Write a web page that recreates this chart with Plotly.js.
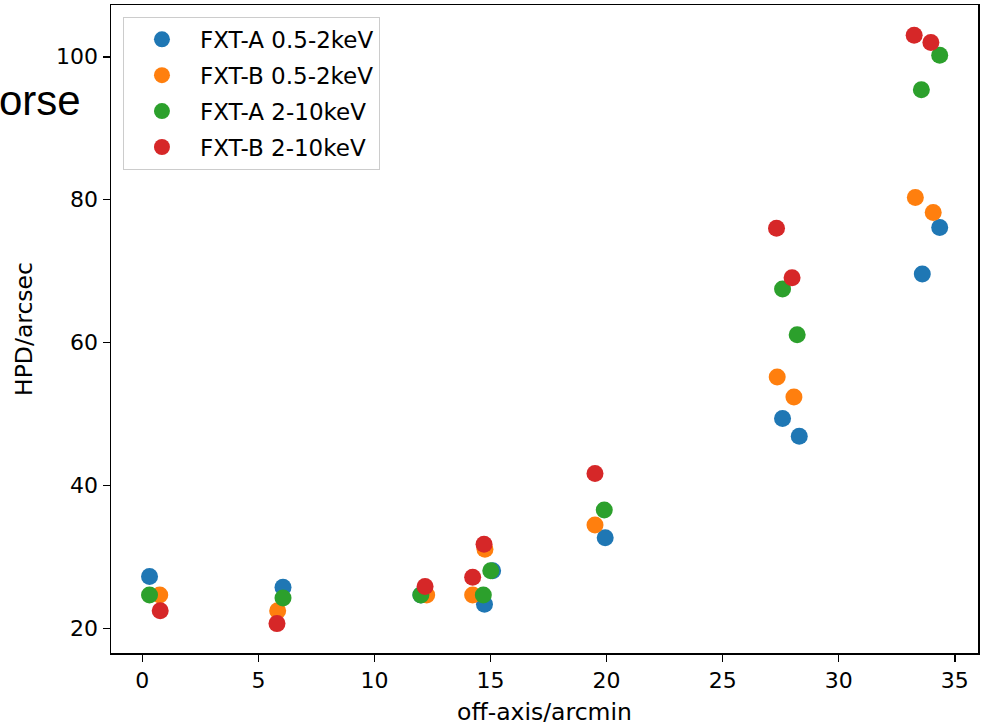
<!DOCTYPE html>
<html>
<head>
<meta charset="utf-8">
<script src="https://cdn.plot.ly/plotly-3.0.1.min.js"></script>
<style>html,body{margin:0;padding:0;background:#fff;}#chart{width:984px;height:726px;}</style>
</head>
<body>
<div id="chart"></div>
<script>
// Series names
const seriesNames = ["FXT-A 0.5-2keV", "FXT-B 0.5-2keV", "FXT-A 2-10keV", "FXT-B 2-10keV"];
const seriesColors = ["#1f77b4", "#ff7f0e", "#2ca02c", "#d62728"];

// off-axis angle (arcmin)
const xFxtA_soft = [0.31, 6.06, 12.0, 14.74, 15.09, 19.94, 27.58, 28.30, 33.60, 34.35];
const xFxtB_soft = [0.75, 5.83, 12.25, 14.23, 14.76, 19.50, 27.35, 28.07, 33.30, 34.07];
const xFxtA_hard = [0.31, 6.06, 12.0, 14.69, 15.01, 19.90, 27.58, 28.21, 33.56, 34.35];
const xFxtB_hard = [0.77, 5.80, 12.18, 14.23, 14.72, 19.50, 27.32, 27.99, 33.25, 33.97];

// HPD (arcsec)
const hpdFxtA_soft = [27.3, 25.8, 24.7, 23.4, 28.1, 32.7, 49.4, 46.9, 69.6, 76.1];
const hpdFxtB_soft = [24.7, 22.5, 24.7, 24.7, 31.1, 34.5, 55.2, 52.4, 80.3, 78.2];
const hpdFxtA_hard = [24.7, 24.3, 24.7, 24.7, 28.1, 36.6, 67.5, 61.1, 95.4, 100.2];
const hpdFxtB_hard = [22.5, 20.7, 25.9, 27.2, 31.8, 41.7, 76.0, 69.1, 103.0, 102.0];

const yTicks = [20, 40, 60, 80, 100];
const xTicks = [0, 5, 10, 15, 20, 25, 30, 35];

const xs = [xFxtA_soft, xFxtB_soft, xFxtA_hard, xFxtB_hard];
const ys = [hpdFxtA_soft, hpdFxtB_soft, hpdFxtA_hard, hpdFxtB_hard];

const FONT = "DejaVu Sans, sans-serif";

const traces = seriesNames.map((name, i) => ({
  type: "scatter",
  mode: "markers",
  name: name,
  x: xs[i],
  y: ys[i],
  legendgroup: "g" + i,
  marker: {color: seriesColors[i], size: 17, line: {width: 0}}
}));

const layout = {
  width: 984,
  height: 726,
  paper_bgcolor: "#ffffff",
  plot_bgcolor: "#ffffff",
  margin: {l: 111, r: 6, t: 5, b: 73, pad: 0},
  font: {family: FONT, size: 22, color: "#000000"},
  showlegend: true,
  legend: {
    x: 0.0138, y: 0.9817, xanchor: "left", yanchor: "top",
    bgcolor: "rgba(255,255,255,0.8)",
    bordercolor: "#cccccc",
    borderwidth: 1,
    font: {family: FONT, size: 23, color: "#000000"},
    itemwidth: 66,
    traceorder: "grouped",
    tracegroupgap: 3
  },
  xaxis: {
    range: [-1.35, 36.0],
    tickvals: xTicks,
    ticktext: xTicks.map(String),
    ticks: "outside", ticklen: 7, tickwidth: 1.5, tickcolor: "#000",
    showline: true, linecolor: "#000", linewidth: 1.5, mirror: true,
    showgrid: false, zeroline: false,
    tickfont: {family: FONT, size: 22, color: "#000"},
    title: {text: "off-axis/arcmin", font: {family: FONT, size: 23.5, color: "#000"}, standoff: 12}
  },
  yaxis: {
    range: [16.59, 107.24],
    tickvals: yTicks,
    ticktext: yTicks.map(String),
    ticks: "outside", ticklen: 7, tickwidth: 1.5, tickcolor: "#000",
    showline: true, linecolor: "#000", linewidth: 1.5, mirror: true,
    showgrid: false, zeroline: false,
    tickfont: {family: FONT, size: 22, color: "#000"},
    title: {text: "HPD/arcsec", font: {family: FONT, size: 23.5, color: "#000"}, standoff: 17}
  },
  annotations: [{
    text: "orse",
    xref: "paper", yref: "paper",
    x: -0.0323, y: 0.853,
    xanchor: "right", yanchor: "middle",
    showarrow: false,
    font: {family: "Liberation Sans, Arial, sans-serif", size: 42, color: "#000"}
  }]
};

Plotly.newPlot("chart", traces, layout, {displayModeBar: false, staticPlot: true});
</script>
</body>
</html>
